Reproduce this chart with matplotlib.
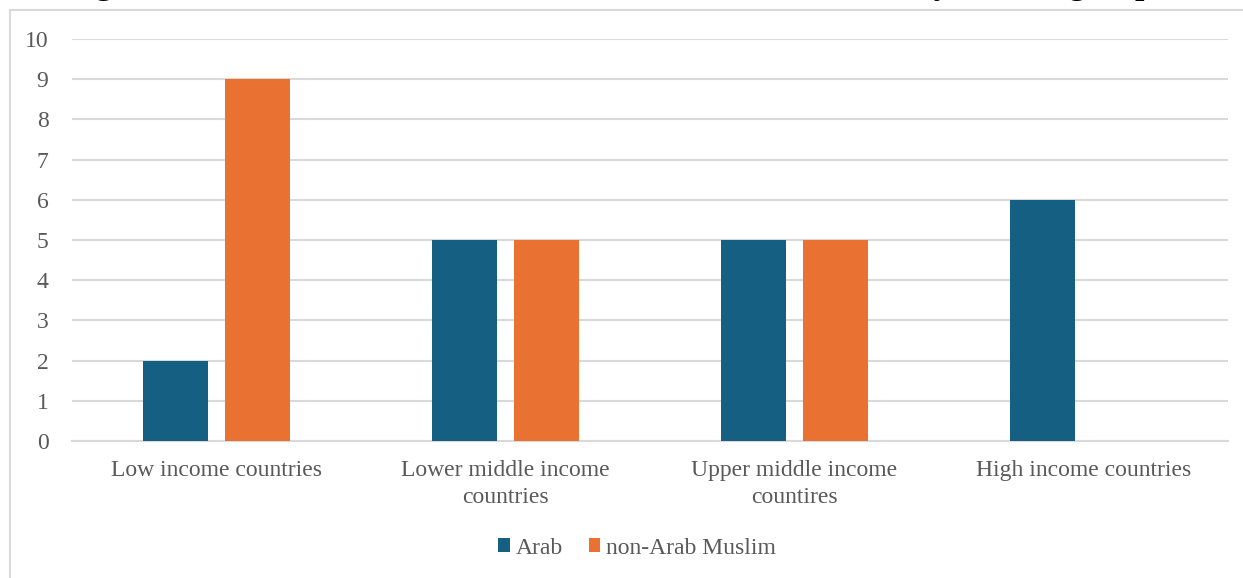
import matplotlib
matplotlib.use("Agg")
import matplotlib.pyplot as plt
from matplotlib.patches import Rectangle
import numpy as np

plt.rcParams['font.family'] = ['Liberation Serif', 'DejaVu Serif']

categories = ["Low income countries", "Lower middle income\ncountries",
              "Upper middle income\ncountires", "High income countries"]
arab = [2, 5, 5, 6]
non_arab_muslim = [9, 5, 5, 0]
series_names = ["Arab", "non-Arab Muslim"]
colors = ["#155f82", "#e97132"]
yticks = list(range(0, 11))

W, H = 1243, 578
fig = plt.figure(figsize=(W / 100, H / 100), dpi=100)

# chart frame
fig.add_artist(Rectangle((10 / W, -0.1), 1.1, (H - 10) / H + 0.1, transform=fig.transFigure,
                         fill=False, edgecolor="#d9d9d9", linewidth=1.5))

# title sitting above the frame
fig.text(66 / W, 1 + 6 / H,
         "Figure 1: Number of Arab and non-Arab Muslim countries by income group",
         fontsize=24, fontweight="bold", color="black", ha="left", va="baseline")

ax = fig.add_axes([72 / W, 1 - 441 / H, (1228 - 72) / W, (441 - 39) / H])
x = np.arange(len(categories))
bw = 0.222
off = 0.142
ax.bar(x - off, arab, width=bw, color=colors[0], label=series_names[0], zorder=3)
ax.bar(x + off, non_arab_muslim, width=bw, color=colors[1], label=series_names[1], zorder=3)

ax.set_xlim(-0.5, len(categories) - 0.5)
ax.set_ylim(0, 10)
ax.set_yticks(yticks)
ax.set_yticklabels([str(t) for t in yticks])
ax.set_xticks(x)
ax.set_xticklabels(categories, linespacing=1.35)
ax.yaxis.grid(True, color="#d9d9d9", linewidth=1.5, zorder=0)
ax.set_axisbelow(True)
for s in ["top", "right", "left"]:
    ax.spines[s].set_visible(False)
ax.spines["bottom"].set_color("#d9d9d9")
ax.spines["bottom"].set_linewidth(1.5)
ax.tick_params(axis="both", length=0, labelsize=17, labelcolor="#595959")
ax.tick_params(axis="y", pad=17)
ax.tick_params(axis="x", pad=14)
ax.set_facecolor("white")

fig.legend(loc="center", bbox_to_anchor=(637 / W, 1 - 548 / H), ncol=2, frameon=False,
           fontsize=17, labelcolor="#595959", handlelength=0.5, handleheight=0.5,
           handletextpad=0.25, columnspacing=1.1)

fig.savefig("out.png", dpi=100)
